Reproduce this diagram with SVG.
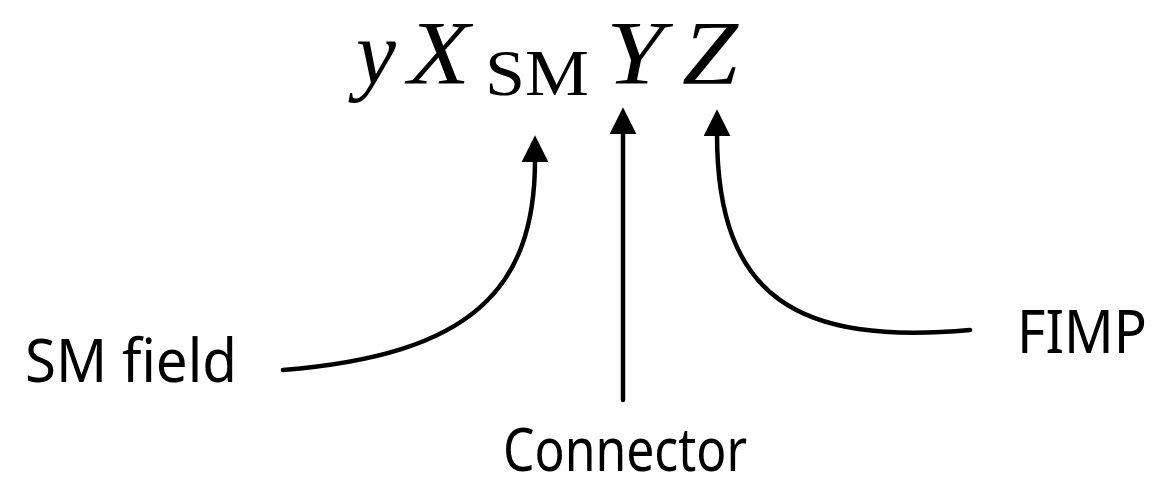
<svg xmlns="http://www.w3.org/2000/svg" width="1157" height="488" viewBox="0 0 1157 488">
<style>
.m{font-family:"Liberation Serif","DejaVu Serif",serif;fill:#000;font-weight:normal}
.i{font-style:italic;font-size:90px}
.s{font-size:66px}
.h{font-family:"Noto Sans","DejaVu Sans",sans-serif;font-size:60px;fill:#000}
.c{fill:none;stroke:#000;stroke-width:4.5;stroke-linecap:round}
</style>
<defs>
<marker id="ah" markerWidth="6" markerHeight="6" refX="0.5" refY="3" orient="auto" markerUnits="strokeWidth" viewBox="0 0 6 6">
<path d="M0,0 L6,3 L0,6 z" fill="#000"/>
</marker>
</defs>
<g id="formula">
<text class="m i" x="356" y="84">y</text>
<text class="m i" x="408" y="84" textLength="62" lengthAdjust="spacingAndGlyphs">X</text>
<text class="m s" x="485" y="95" textLength="104" lengthAdjust="spacingAndGlyphs">SM</text>
<text class="m i" x="606" y="84" textLength="58" lengthAdjust="spacingAndGlyphs">Y</text>
<text class="m i" x="682" y="84" textLength="56" lengthAdjust="spacingAndGlyphs">Z</text>
</g>
<g id="connectors">
<path class="c" d="M283,370 C470,355 535,290 535,160" marker-end="url(#ah)"/>
<path class="c" d="M623,400 L623,132" marker-end="url(#ah)"/>
<path class="c" d="M970,330 C800,345 717,300 717,134" marker-end="url(#ah)"/>
</g>
<g id="sm-field"><text class="h" x="25" y="382" textLength="212" lengthAdjust="spacingAndGlyphs">SM field</text></g>
<g id="fimp"><text class="h" x="1017" y="353" textLength="130" lengthAdjust="spacingAndGlyphs">FIMP</text></g>
<g id="connector"><text class="h" x="503" y="471" font-size="58" textLength="244" lengthAdjust="spacingAndGlyphs">Connector</text></g>
</svg>
